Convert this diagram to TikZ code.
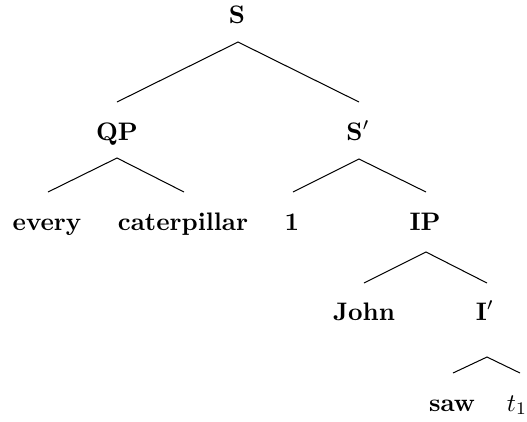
\documentclass[tikz,border=0pt]{standalone}
\begin{document}
\begin{tikzpicture}[x=0.395pt,y=-0.395pt,
  lab/.style={anchor=base,inner sep=0pt,font=\bfseries},
  edge/.style={line width=0.4pt}]
\useasboundingbox (0,0) rectangle (527,421);
% nodes
\node[lab] (S) at (237,23) {S};
\node[lab] (QP) at (117,140) {QP};
\node[lab] (Sp) at (358,140) {S$'$};
\node[lab] (every) at (47,230) {every};
\node[lab] (cat) at (183,230) {caterpillar};
\node[lab] (one) at (292,230) {1};
\node[lab] (IP) at (425,230) {IP};
\node[lab] (John) at (364,320) {John};
\node[lab] (Ip) at (485,320) {I$'$};
\node[lab] (saw) at (452,411) {saw};
\node[anchor=base,inner sep=0pt] (t) at (517,411) {$t_1$};
% connector end points
\coordinate (S-d) at (238,42);
\coordinate (QP-u) at (117,102);
\coordinate (Sp-u) at (359,102);
\coordinate (QP-d) at (117,158);
\coordinate (every-u) at (48,192);
\coordinate (cat-u) at (184,192);
\coordinate (Sp-d) at (359,159);
\coordinate (one-u) at (293,192);
\coordinate (IP-u) at (426,192);
\coordinate (IP-d) at (426,252);
\coordinate (John-u) at (364,283);
\coordinate (Ip-u) at (487,283);
\coordinate (Ip-d) at (487,357);
\coordinate (saw-u) at (453,373);
\coordinate (t-u) at (520,373);
% connectors
\draw[edge] (QP-u) -- (S-d) -- (Sp-u);
\draw[edge] (every-u) -- (QP-d) -- (cat-u);
\draw[edge] (one-u) -- (Sp-d) -- (IP-u);
\draw[edge] (John-u) -- (IP-d) -- (Ip-u);
\draw[edge] (saw-u) -- (Ip-d) -- (t-u);
\end{tikzpicture}
\end{document}
